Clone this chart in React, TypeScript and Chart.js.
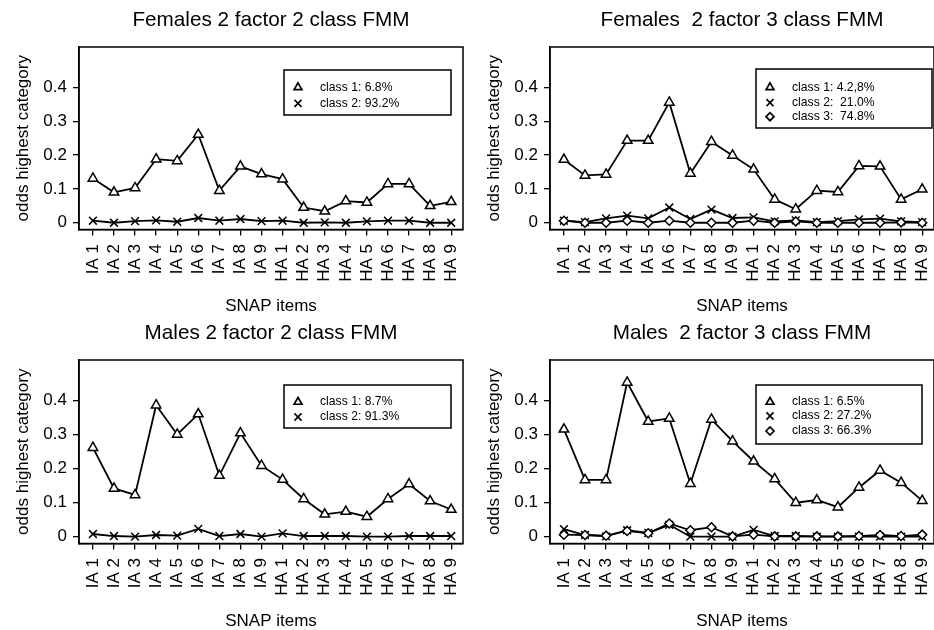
import React, { useEffect, useRef } from "react";
import { Chart, registerables } from "chart.js";

Chart.register(...registerables);

// ---------- data ----------
const snapItems = [
  "IA 1", "IA 2", "IA 3", "IA 4", "IA 5", "IA 6", "IA 7", "IA 8", "IA 9",
  "HA 1", "HA 2", "HA 3", "HA 4", "HA 5", "HA 6", "HA 7", "HA 8", "HA 9",
];
const yTickValues = [0, 0.1, 0.2, 0.3, 0.4];
const yTickLabels = ["0", "0.1", "0.2", "0.3", "0.4"];

const females2Class1 = [0.131, 0.090, 0.103, 0.188, 0.183, 0.261, 0.095, 0.167, 0.144, 0.129, 0.045, 0.034, 0.064, 0.060, 0.115, 0.115, 0.050, 0.062];
const females2Class2 = [0.006, 0.000, 0.005, 0.007, 0.003, 0.014, 0.006, 0.011, 0.005, 0.006, 0.000, 0.001, 0.000, 0.004, 0.006, 0.006, 0.000, 0.000];

const females3Class1 = [0.187, 0.140, 0.143, 0.243, 0.243, 0.356, 0.146, 0.240, 0.199, 0.158, 0.069, 0.040, 0.095, 0.091, 0.168, 0.167, 0.069, 0.099];
const females3Class2 = [0.006, 0.002, 0.013, 0.021, 0.013, 0.045, 0.011, 0.039, 0.014, 0.016, 0.004, 0.007, 0.002, 0.005, 0.010, 0.012, 0.004, 0.002];
const females3Class3 = [0.006, 0.000, 0.000, 0.006, 0.000, 0.006, 0.000, 0.000, 0.000, 0.006, 0.000, 0.004, 0.000, 0.000, 0.000, 0.000, 0.001, 0.000];

const males2Class1 = [0.262, 0.142, 0.123, 0.387, 0.301, 0.361, 0.180, 0.305, 0.209, 0.168, 0.111, 0.066, 0.074, 0.059, 0.111, 0.155, 0.105, 0.080];
const males2Class2 = [0.008, 0.002, 0.000, 0.005, 0.003, 0.023, 0.002, 0.008, 0.000, 0.010, 0.002, 0.002, 0.002, 0.000, 0.000, 0.002, 0.002, 0.002];

const males3Class1 = [0.316, 0.167, 0.167, 0.454, 0.339, 0.348, 0.156, 0.345, 0.281, 0.222, 0.170, 0.100, 0.108, 0.087, 0.145, 0.195, 0.159, 0.106];
const males3Class2 = [0.022, 0.005, 0.001, 0.019, 0.011, 0.035, 0.000, 0.000, 0.000, 0.020, 0.002, 0.002, 0.000, 0.000, 0.000, 0.000, 0.000, 0.000];
const males3Class3 = [0.006, 0.005, 0.003, 0.017, 0.010, 0.039, 0.019, 0.028, 0.001, 0.006, 0.001, 0.001, 0.001, 0.001, 0.002, 0.005, 0.002, 0.006];

// ---------- styling / layout ----------
const FONT = "'Liberation Sans', Arial, Helvetica, sans-serif";

const markerRadius: Record<string, number> = { triangle: 5.5, crossRot: 5.5, rectRot: 4.5 };
const legendRadius: Record<string, number> = { triangle: 4.5, crossRot: 5, rectRot: 4 };

type Series = { label: string; values: number[]; style: string };
type PanelCfg = {
  title: string;
  left: number;
  top: number;
  width: number;
  height: number;
  plotBottom: number;
  series: Series[];
  legend: { dx: number; dy: number; w: number; h: number; rows: number[] };
};

const panels: PanelCfg[] = [
  {
    title: "Females 2 factor 2 class FMM",
    left: 0, top: 0, width: 470, height: 318, plotBottom: 229.5,
    series: [
      { label: "class 1: 6.8%", values: females2Class1, style: "triangle" },
      { label: "class 2: 93.2%", values: females2Class2, style: "crossRot" },
    ],
    legend: { dx: 205, dy: 23, w: 167, h: 45, rows: [17.3, 33.3] },
  },
  {
    title: "Females  2 factor 3 class FMM",
    left: 471, top: 0, width: 470, height: 318, plotBottom: 229.5,
    series: [
      { label: "class 1: 4.2,8%", values: females3Class1, style: "triangle" },
      { label: "class 2:  21.0%", values: females3Class2, style: "crossRot" },
      { label: "class 3:  74.8%", values: females3Class3, style: "rectRot" },
    ],
    legend: { dx: 206, dy: 22, w: 176, h: 59, rows: [18.3, 33.7, 47.7] },
  },
  {
    title: "Males 2 factor 2 class FMM",
    left: 0, top: 313, width: 470, height: 320, plotBottom: 230.5,
    series: [
      { label: "class 1: 8.7%", values: males2Class1, style: "triangle" },
      { label: "class 2: 91.3%", values: males2Class2, style: "crossRot" },
    ],
    legend: { dx: 205, dy: 25, w: 167, h: 43, rows: [17, 32] },
  },
  {
    title: "Males  2 factor 3 class FMM",
    left: 471, top: 313, width: 470, height: 320, plotBottom: 230.5,
    series: [
      { label: "class 1: 6.5%", values: males3Class1, style: "triangle" },
      { label: "class 2: 27.2%", values: males3Class2, style: "crossRot" },
      { label: "class 3: 66.3%", values: males3Class3, style: "rectRot" },
    ],
    legend: { dx: 206, dy: 25, w: 166, h: 59, rows: [17, 31, 46] },
  },
];

function drawMarker(ctx: CanvasRenderingContext2D, style: string, x: number, y: number, r: number) {
  ctx.beginPath();
  if (style === "triangle") {
    ctx.moveTo(x, y - r);
    ctx.lineTo(x + r * 0.866, y + r * 0.5);
    ctx.lineTo(x - r * 0.866, y + r * 0.5);
    ctx.closePath();
  } else if (style === "crossRot") {
    const d = r * 0.707;
    ctx.moveTo(x - d, y - d);
    ctx.lineTo(x + d, y + d);
    ctx.moveTo(x + d, y - d);
    ctx.lineTo(x - d, y + d);
  } else {
    ctx.moveTo(x - r, y);
    ctx.lineTo(x, y - r);
    ctx.lineTo(x + r, y);
    ctx.lineTo(x, y + r);
    ctx.closePath();
  }
  ctx.stroke();
}

const frameLegendPlugin = {
  id: "frameLegend",
  afterDraw(chart: any, _args: any, opts: any) {
    const { ctx, chartArea: a } = chart;
    ctx.save();
    ctx.strokeStyle = "#000";
    ctx.lineWidth = 1.5;
    ctx.strokeRect(a.left, a.top, a.right - a.left, a.bottom - a.top);
    const lg = opts && opts.box;
    if (lg) {
      const bx = a.left + lg.dx;
      const by = a.top + lg.dy;
      ctx.fillStyle = "#fff";
      ctx.fillRect(bx, by, lg.w, lg.h);
      ctx.strokeRect(bx, by, lg.w, lg.h);
      ctx.font = `12.2px ${FONT}`;
      ctx.fillStyle = "#000";
      ctx.textBaseline = "middle";
      ctx.textAlign = "left";
      chart.data.datasets.forEach((ds: any, i: number) => {
        const y = by + lg.rows[i];
        ctx.lineWidth = 1.7;
        drawMarker(ctx, ds.pointStyle, bx + 14, y, legendRadius[ds.pointStyle]);
        ctx.fillText(ds.label, bx + 36, y);
      });
    }
    ctx.restore();
  },
};

function Panel({ cfg }: { cfg: PanelCfg }) {
  const ref = useRef<HTMLCanvasElement>(null);
  useEffect(() => {
    const canvas = ref.current;
    if (!canvas) return;
    const xAxisH = cfg.height - 1 - cfg.plotBottom;
    const chart = new Chart(canvas, {
      type: "line",
      data: {
        datasets: cfg.series.map((s, i) => ({
          label: s.label,
          data: s.values.map((v, k) => ({ x: k + 1, y: v })),
          borderColor: "#000",
          borderWidth: 1.8,
          pointStyle: s.style as any,
          pointRadius: markerRadius[s.style],
          pointBorderWidth: 1.5,
          pointBorderColor: "#000",
          pointBackgroundColor: "#fff",
          fill: false,
          tension: 0,
          order: -i,
        })),
      },
      options: {
        animation: false,
        responsive: false,
        maintainAspectRatio: false,
        devicePixelRatio: 1,
        layout: { padding: { top: 0, left: 0, right: 2.4, bottom: 1 } },
        plugins: {
          legend: { display: false },
          tooltip: { enabled: false },
          title: {
            display: true,
            text: cfg.title,
            fullSize: false,
            color: "#000",
            font: { family: FONT, size: 20.7, weight: "normal", lineHeight: 1.2 },
            padding: { top: 8, bottom: 14.16 },
          },
          frameLegend: { box: cfg.legend },
        } as any,
        scales: {
          x: {
            type: "linear",
            min: 0.34,
            max: 18.56,
            afterBuildTicks: (scale: any) => {
              scale.ticks = snapItems.map((_, i) => ({ value: i + 1 }));
            },
            afterFit: (scale: any) => {
              scale.height = xAxisH;
              scale.paddingLeft = 0;
              scale.paddingRight = 0;
            },
            ticks: {
              autoSkip: false,
              minRotation: 90,
              maxRotation: 90,
              padding: 8.5,
              color: "#000",
              font: { family: FONT, size: 17 },
              callback: (value: any) => snapItems[Math.round(Number(value)) - 1] ?? "",
            },
            grid: { display: true, drawOnChartArea: false, drawTicks: true, tickLength: 6, color: "#000", lineWidth: 1.3 },
            border: { display: true, color: "#000", width: 1.5 },
            title: {
              display: true,
              text: "SNAP items",
              color: "#000",
              font: { family: FONT, size: 17 },
              padding: { top: 0, bottom: 0 },
            },
          },
          y: {
            type: "linear",
            min: -0.02,
            max: 0.52,
            afterBuildTicks: (scale: any) => {
              scale.ticks = yTickValues.map((v) => ({ value: v }));
            },
            afterFit: (scale: any) => {
              scale.width = 79;
              scale.paddingTop = 0;
              scale.paddingBottom = 0;
            },
            ticks: {
              padding: 6,
              color: "#000",
              font: { family: FONT, size: 17 },
              callback: (value: any) => {
                const idx = yTickValues.findIndex((t) => Math.abs(t - Number(value)) < 1e-9);
                return idx >= 0 ? yTickLabels[idx] : "";
              },
            },
            grid: { display: true, drawOnChartArea: false, drawTicks: true, tickLength: 6, color: "#000", lineWidth: 1.3 },
            border: { display: true, color: "#000", width: 1.5 },
            title: {
              display: true,
              text: "odds highest category",
              color: "#000",
              font: { family: FONT, size: 17 },
              padding: { top: 13.5, bottom: 0 },
            },
          },
        },
      },
      plugins: [frameLegendPlugin as any],
    });
    return () => chart.destroy();
  }, [cfg]);
  return (
    <canvas
      ref={ref}
      width={cfg.width}
      height={cfg.height}
      style={{ position: "absolute", left: cfg.left, top: cfg.top, width: cfg.width, height: cfg.height }}
    />
  );
}

export default function App() {
  return (
    <div
      style={{
        position: "absolute",
        left: 0,
        top: 0,
        width: 934,
        height: 630,
        overflow: "hidden",
        background: "#fff",
      }}
    >
      {panels.map((p) => (
        <Panel key={p.title} cfg={p} />
      ))}
    </div>
  );
}
